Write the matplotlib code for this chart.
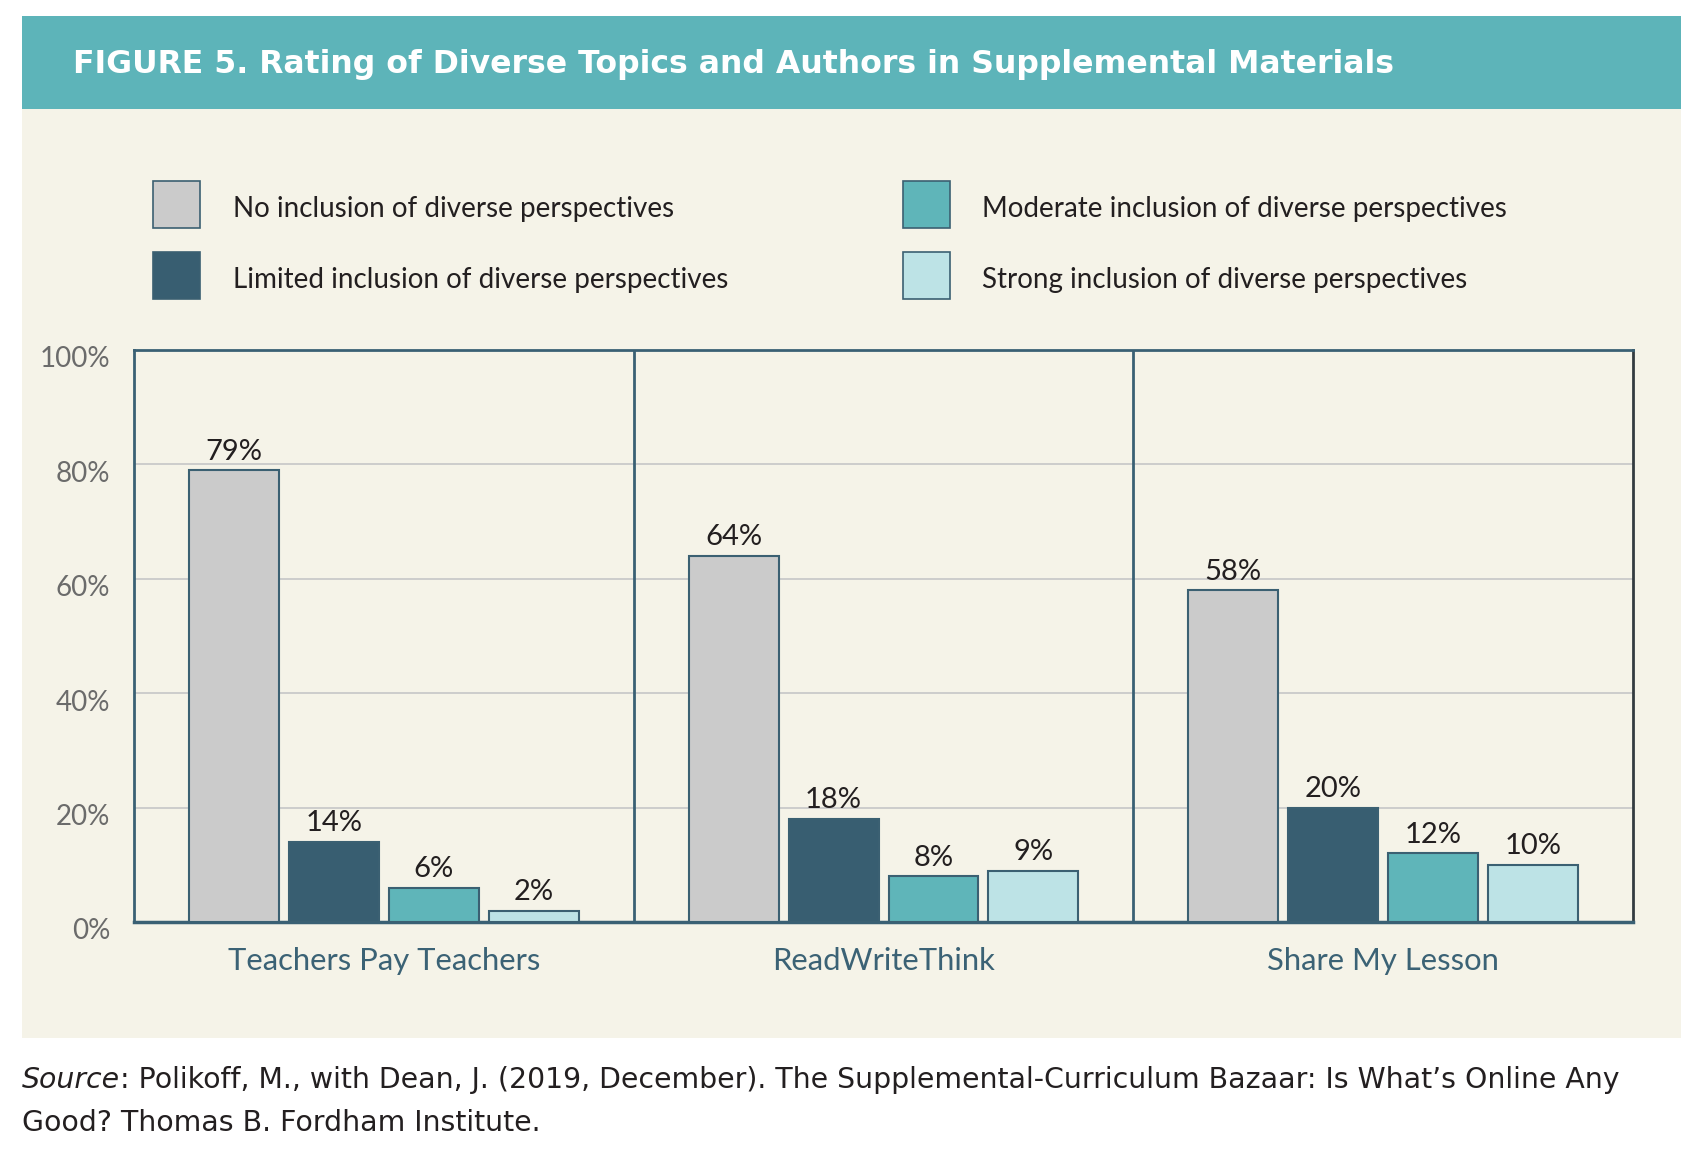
import numpy as np
import matplotlib.pyplot as plt
from matplotlib.patches import Rectangle
from matplotlib.transforms import ScaledTranslation

# Data
sites = ['Teachers Pay Teachers', 'ReadWriteThink', 'Share My Lesson']
ratings = ['No inclusion of diverse perspectives',
           'Limited inclusion of diverse perspectives',
           'Moderate inclusion of diverse perspectives',
           'Strong inclusion of diverse perspectives']
no_incl = [79, 64, 58]
limited_incl = [14, 18, 20]
moderate_incl = [6, 8, 12]
strong_incl = [2, 9, 10]
yticks = [0, 20, 40, 60, 80, 100]

# Colors
bar_colors = ['#cbcbcb', '#385e71', '#5fb5b9', '#bde3e6']
edge_color = '#3b6072'
frame_color = '#3a6074'
panel_color = '#f5f3e8'
header_color = '#5db4b9'

text_font = 'Lato'

fig = plt.figure(figsize=(17.05, 11.64), dpi=100)
fig.patch.set_facecolor('white')

# header bar and beige panel
fig.add_artist(Rectangle((0.0129, 0.1082), 0.973, 0.7982, transform=fig.transFigure,
                         facecolor=panel_color, edgecolor='none', zorder=0))
fig.add_artist(Rectangle((0.0129, 0.9064), 0.973, 0.0799, transform=fig.transFigure,
                         facecolor=header_color, edgecolor='none', zorder=0))
fig.text(0.0428, 0.9442, 'FIGURE 5. Rating of Diverse Topics and Authors in Supplemental Materials',
         color='white', fontsize=22.7, fontweight='bold', family='DejaVu Sans',
         va='center', ha='left')

ax = fig.add_axes([0.0786, 0.2079, 0.9578 - 0.0786, 0.4914])
ax.set_facecolor(panel_color)

series = [no_incl, limited_incl, moderate_incl, strong_incl]
x = np.arange(len(sites))
offsets = [-0.3, -0.1, 0.1, 0.3]
for vals, off, col in zip(series, offsets, bar_colors):
    bars = ax.bar(x + 0.5 + off, vals, width=0.18, color=col,
                  edgecolor=edge_color, linewidth=1.5, zorder=3)
    for b, v in zip(bars, vals):
        ax.annotate(f'{v}%', (b.get_x() + b.get_width() / 2, v),
                    xytext=(0, 4), textcoords='offset points',
                    ha='center', va='bottom', fontsize=21,
                    color='#231f20', family=text_font)

ax.set_xlim(0, 3)
ax.set_ylim(0, 100)
ax.yaxis.grid(True, color='#c9c9c9', linewidth=1.3, zorder=1)
ax.set_axisbelow(True)
for sep in [1, 2]:
    ax.axvline(sep, color=frame_color, linewidth=2, zorder=2)

for side in ['left', 'top', 'bottom']:
    ax.spines[side].set_color(frame_color)
    ax.spines[side].set_linewidth(2)
ax.spines['bottom'].set_linewidth(2.5)
ax.spines['right'].set_color('#333b40')
ax.spines['right'].set_linewidth(2)

ax.set_yticks(yticks)
ax.set_yticklabels([f'{t}%' for t in yticks], fontsize=20, color='#6b6b6b', family=text_font)
ax.tick_params(axis='y', length=0, pad=17)
for lab in ax.get_yticklabels():
    lab.set_transform(lab.get_transform() + ScaledTranslation(0, -5 / 72, fig.dpi_scale_trans))

ax.set_xticks(x + 0.5)
ax.set_xticklabels(sites, fontsize=22.3, color='#3b6275', family=text_font)
ax.tick_params(axis='x', length=0, pad=18)

# legend
sq_w, sq_h = 47 / 1705, 47 / 1164
legend_pos = [(0.0897, 0.8041, 0.1367, 0.8202),
              (0.0897, 0.7431, 0.1367, 0.7596),
              (0.5296, 0.8041, 0.5760, 0.8202),
              (0.5296, 0.7431, 0.5760, 0.7596)]
for (sx, sy, tx, ty), col, lab in zip(legend_pos, bar_colors, ratings):
    fig.add_artist(Rectangle((sx, sy), sq_w, sq_h, transform=fig.transFigure,
                             facecolor=col, edgecolor=edge_color, linewidth=1.2))
    fig.text(tx, ty, lab, fontsize=20, color='#231f20', family=text_font,
             va='center', ha='left')

# source
src = fig.text(0.0129, 0.0722, 'Source', fontsize=20.4, style='italic',
               color='#231f20', family='DejaVu Sans', va='center', ha='left')
ax.annotate(': Polikoff, M., with Dean, J. (2019, December). The Supplemental-Curriculum Bazaar: Is What\u2019s Online Any',
            xy=(1, 0), xycoords=src, va='bottom', ha='left', fontsize=20.4,
            color='#231f20', family='DejaVu Sans', annotation_clip=False)
fig.text(0.0129, 0.0355, 'Good? Thomas B. Fordham Institute.', fontsize=20.4,
         color='#231f20', family='DejaVu Sans', va='center', ha='left')

fig.savefig('out.png', dpi=100, facecolor='white')
